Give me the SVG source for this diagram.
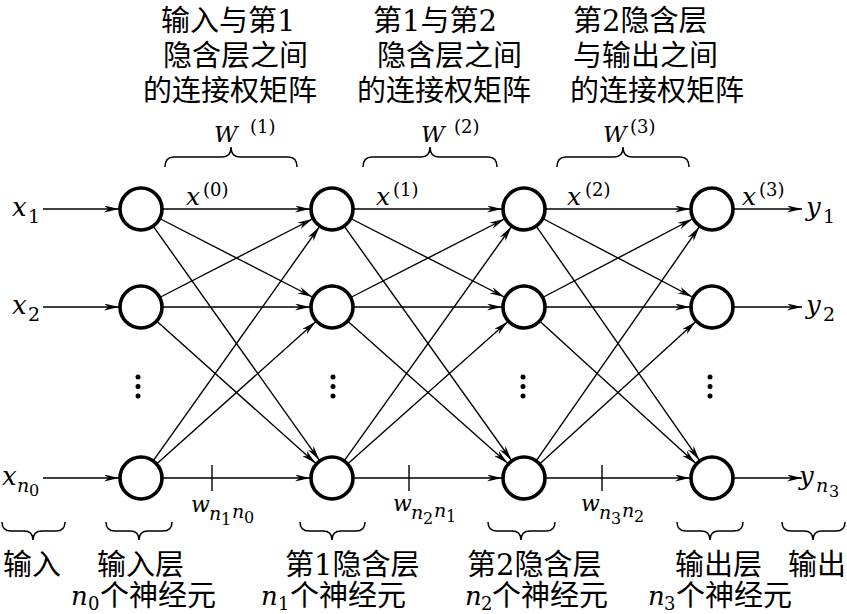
<svg xmlns="http://www.w3.org/2000/svg" width="847" height="614" viewBox="0 0 847 614">
<defs>
<marker id="ah" viewBox="0 0 15 7" refX="15" refY="3.5" markerWidth="15" markerHeight="7" markerUnits="userSpaceOnUse" orient="auto">
<path d="M0,0 L15,3.5 L0,7 L4.5,3.5 z" fill="#000"/>
</marker>
<style>
.n{fill:#fff;stroke:#000;stroke-width:3.6}
.c line{stroke:#000;stroke-width:1.4;marker-end:url(#ah)}
.tick{stroke:#000;stroke-width:1.4}
.br{fill:none;stroke:#000;stroke-width:1.5}
.cn{font-size:29px;fill:#000}
.m{font-style:italic;fill:#000}
.d{font-style:normal;fill:#000}
.dot{fill:#000}
</style>
</defs>
<rect width="847" height="614" fill="#fff"/>

<g id="label-w1" font-family="DejaVu Serif, Noto Sans CJK SC, serif">
<text class="cn"><tspan x="161" y="31">输入与第1</tspan><tspan x="163" y="66">隐含层之间</tspan><tspan x="143" y="101">的连接权矩阵</tspan></text>
<text class="m" x="214" y="142" font-size="23">W</text><text class="d" x="250" y="133" font-size="18">(1)</text>
<path class="br" d="M165,167 Q165,157 174,157 L222,157 Q231,157 231,147 Q231,157 240,157 L288,157 Q297,157 297,167"/>
</g>
<g id="label-w2" font-family="DejaVu Serif, Noto Sans CJK SC, serif">
<text class="cn"><tspan x="373" y="31">第1与第2</tspan><tspan x="377" y="66">隐含层之间</tspan><tspan x="357" y="101">的连接权矩阵</tspan></text>
<text class="m" x="421" y="142" font-size="23">W</text><text class="d" x="454" y="133" font-size="18">(2)</text>
<path class="br" d="M363,167 Q363,157 372,157 L421,157 Q430,157 430,147 Q430,157 439,157 L488,157 Q497,157 497,167"/>
</g>
<g id="label-w3" font-family="DejaVu Serif, Noto Sans CJK SC, serif">
<text class="cn"><tspan x="573" y="31">第2隐含层</tspan><tspan x="573" y="66">与输出之间</tspan><tspan x="570" y="101">的连接权矩阵</tspan></text>
<text class="m" x="603" y="142" font-size="23">W</text><text class="d" x="630" y="133" font-size="18">(3)</text>
<path class="br" d="M557,167 Q557,157 566,157 L614,157 Q623,157 623,147 Q623,157 632,157 L680,157 Q689,157 689,167"/>
</g>

<g id="connectors" class="c">
<line x1="43" y1="209" x2="119" y2="209"/>
<line x1="43" y1="307" x2="119" y2="307"/>
<line x1="43" y1="478" x2="119" y2="478"/>

<line x1="163" y1="209" x2="310" y2="209"/>
<line x1="160.6" y1="219" x2="312.4" y2="297"/>
<line x1="153.7" y1="226.9" x2="319.3" y2="460.1"/>
<line x1="160.6" y1="297" x2="312.4" y2="219"/>
<line x1="163" y1="307" x2="310" y2="307"/>
<line x1="157.4" y1="321.7" x2="315.6" y2="463.3"/>
<line x1="153.7" y1="460.1" x2="319.3" y2="226.9"/>
<line x1="157.4" y1="463.3" x2="315.6" y2="321.7"/>
<line x1="163" y1="478" x2="310" y2="478"/>

<line x1="354" y1="209" x2="502" y2="209"/>
<line x1="351.6" y1="219" x2="504.4" y2="297"/>
<line x1="344.7" y1="226.9" x2="511.3" y2="460.1"/>
<line x1="351.6" y1="297" x2="504.4" y2="219"/>
<line x1="354" y1="307" x2="502" y2="307"/>
<line x1="348.4" y1="321.7" x2="507.6" y2="463.3"/>
<line x1="344.7" y1="460.1" x2="511.3" y2="226.9"/>
<line x1="348.4" y1="463.3" x2="507.6" y2="321.7"/>
<line x1="354" y1="478" x2="502" y2="478"/>

<line x1="546" y1="209" x2="690" y2="209"/>
<line x1="543.6" y1="219" x2="692.4" y2="297"/>
<line x1="536.7" y1="226.9" x2="699.3" y2="460.1"/>
<line x1="543.6" y1="297" x2="692.4" y2="219"/>
<line x1="546" y1="307" x2="690" y2="307"/>
<line x1="540.4" y1="321.7" x2="695.6" y2="463.3"/>
<line x1="536.7" y1="460.1" x2="699.3" y2="226.9"/>
<line x1="540.4" y1="463.3" x2="695.6" y2="321.7"/>
<line x1="546" y1="478" x2="690" y2="478"/>

<line x1="734" y1="209" x2="802" y2="209"/>
<line x1="734" y1="307" x2="802" y2="307"/>
<line x1="734" y1="478" x2="802" y2="478"/>
</g>
<g id="ticks">
<line class="tick" x1="212" y1="465" x2="212" y2="491"/>
<line class="tick" x1="409" y1="465" x2="409" y2="491"/>
<line class="tick" x1="602" y1="465" x2="602" y2="491"/>
</g>

<g id="input-layer">
<circle class="n" cx="141" cy="209" r="21"/>
<circle class="n" cx="141" cy="307" r="21"/>
<circle class="n" cx="141" cy="478" r="21"/>
<circle class="dot" cx="138" cy="377" r="2.5"/><circle class="dot" cx="138" cy="386.5" r="2.5"/><circle class="dot" cx="138" cy="396" r="2.5"/>
</g>
<g id="hidden-layer-1">
<circle class="n" cx="332" cy="209" r="21"/>
<circle class="n" cx="332" cy="307" r="21"/>
<circle class="n" cx="332" cy="478" r="21"/>
<circle class="dot" cx="333" cy="377" r="2.5"/><circle class="dot" cx="333" cy="386.5" r="2.5"/><circle class="dot" cx="333" cy="396" r="2.5"/>
</g>
<g id="hidden-layer-2">
<circle class="n" cx="524" cy="209" r="21"/>
<circle class="n" cx="524" cy="307" r="21"/>
<circle class="n" cx="524" cy="478" r="21"/>
<circle class="dot" cx="523" cy="377" r="2.5"/><circle class="dot" cx="523" cy="386.5" r="2.5"/><circle class="dot" cx="523" cy="396" r="2.5"/>
</g>
<g id="output-layer">
<circle class="n" cx="712" cy="209" r="21"/>
<circle class="n" cx="712" cy="307" r="21"/>
<circle class="n" cx="712" cy="478" r="21"/>
<circle class="dot" cx="710" cy="377" r="2.5"/><circle class="dot" cx="710" cy="386.5" r="2.5"/><circle class="dot" cx="710" cy="396" r="2.5"/>
</g>

<g id="inputs" font-family="DejaVu Serif, serif">
<text class="m" font-size="26"><tspan x="12" y="216">x</tspan><tspan class="d" x="28" y="223" font-size="19">1</tspan></text>
<text class="m" font-size="26"><tspan x="12" y="314">x</tspan><tspan class="d" x="28" y="321" font-size="19">2</tspan></text>
<text class="m" font-size="26"><tspan x="2" y="485">x</tspan><tspan x="17" y="492" font-size="19">n</tspan><tspan class="d" x="29" y="496" font-size="16">0</tspan></text>
</g>
<g id="outputs" font-family="DejaVu Serif, serif">
<text class="m" font-size="26"><tspan x="806" y="216">y</tspan><tspan class="d" x="823" y="223" font-size="19">1</tspan></text>
<text class="m" font-size="26"><tspan x="806" y="314">y</tspan><tspan class="d" x="823" y="321" font-size="19">2</tspan></text>
<text class="m" font-size="26"><tspan x="799" y="485">y</tspan><tspan x="816" y="492" font-size="19">n</tspan><tspan class="d" x="829" y="497" font-size="16">3</tspan></text>
</g>
<g id="x-labels" font-family="DejaVu Serif, serif">
<text class="m" font-size="25"><tspan x="186" y="205">x</tspan><tspan class="d" x="203" y="196" font-size="18">(0)</tspan></text>
<text class="m" font-size="25"><tspan x="376" y="205">x</tspan><tspan class="d" x="393" y="196" font-size="18">(1)</tspan></text>
<text class="m" font-size="25"><tspan x="567" y="205">x</tspan><tspan class="d" x="585" y="196" font-size="18">(2)</tspan></text>
<text class="m" font-size="25"><tspan x="742" y="205">x</tspan><tspan class="d" x="759" y="196" font-size="18">(3)</tspan></text>
</g>
<g id="w-labels" font-family="DejaVu Serif, serif">
<text class="m" font-size="22"><tspan x="191" y="512">w</tspan><tspan x="209" y="520" font-size="19">n</tspan><tspan class="d" x="221" y="525" font-size="16">1</tspan><tspan x="232" y="518" font-size="19">n</tspan><tspan class="d" x="244" y="523" font-size="16">0</tspan></text>
<text class="m" font-size="22"><tspan x="393" y="511">w</tspan><tspan x="411" y="519" font-size="19">n</tspan><tspan class="d" x="423" y="524" font-size="16">2</tspan><tspan x="434" y="517" font-size="19">n</tspan><tspan class="d" x="446" y="522" font-size="16">1</tspan></text>
<text class="m" font-size="22"><tspan x="581" y="511">w</tspan><tspan x="599" y="519" font-size="19">n</tspan><tspan class="d" x="611" y="524" font-size="16">3</tspan><tspan x="622" y="517" font-size="19">n</tspan><tspan class="d" x="634" y="522" font-size="16">2</tspan></text>
</g>

<g id="bottom-braces">
<path class="br" d="M2,522 Q2,531 11,531 L24,531 Q33,531 33,540 Q33,531 42,531 L56,531 Q65,531 65,522"/>
<path class="br" d="M106,522 Q106,531 115,531 L130,531 Q139,531 139,540 Q139,531 148,531 L163,531 Q172,531 172,522"/>
<path class="br" d="M300,522 Q300,531 309,531 L323,531 Q332,531 332,540 Q332,531 341,531 L356,531 Q365,531 365,522"/>
<path class="br" d="M488,522 Q488,531 497,531 L512,531 Q521,531 521,540 Q521,531 530,531 L546,531 Q555,531 555,522"/>
<path class="br" d="M677,522 Q677,531 686,531 L701,531 Q710,531 710,540 Q710,531 719,531 L734,531 Q743,531 743,522"/>
<path class="br" d="M782,522 Q782,531 791,531 L804,531 Q813,531 813,540 Q813,531 822,531 L836,531 Q845,531 845,522"/>
</g>
<g id="bottom-labels" font-family="DejaVu Serif, Noto Sans CJK SC, serif">
<text class="cn" x="3" y="575">输入</text>
<text class="cn" x="97" y="575">输入层</text>
<text class="cn" x="285" y="575">第1隐含层</text>
<text class="cn" x="467" y="575">第2隐含层</text>
<text class="cn" x="675" y="575">输出层</text>
<text class="cn" x="788" y="575">输出</text>
<text class="cn"><tspan class="m" x="71" y="605" font-size="26">n</tspan><tspan class="d" x="88" y="610" font-size="18">0</tspan><tspan x="100" y="606">个神经元</tspan></text>
<text class="cn"><tspan class="m" x="261" y="605" font-size="26">n</tspan><tspan class="d" x="278" y="610" font-size="18">1</tspan><tspan x="290" y="606">个神经元</tspan></text>
<text class="cn"><tspan class="m" x="465" y="605" font-size="26">n</tspan><tspan class="d" x="481" y="610" font-size="18">2</tspan><tspan x="492" y="606">个神经元</tspan></text>
<text class="cn"><tspan class="m" x="648" y="605" font-size="26">n</tspan><tspan class="d" x="664" y="610" font-size="18">3</tspan><tspan x="676" y="606">个神经元</tspan></text>
</g>
</svg>
